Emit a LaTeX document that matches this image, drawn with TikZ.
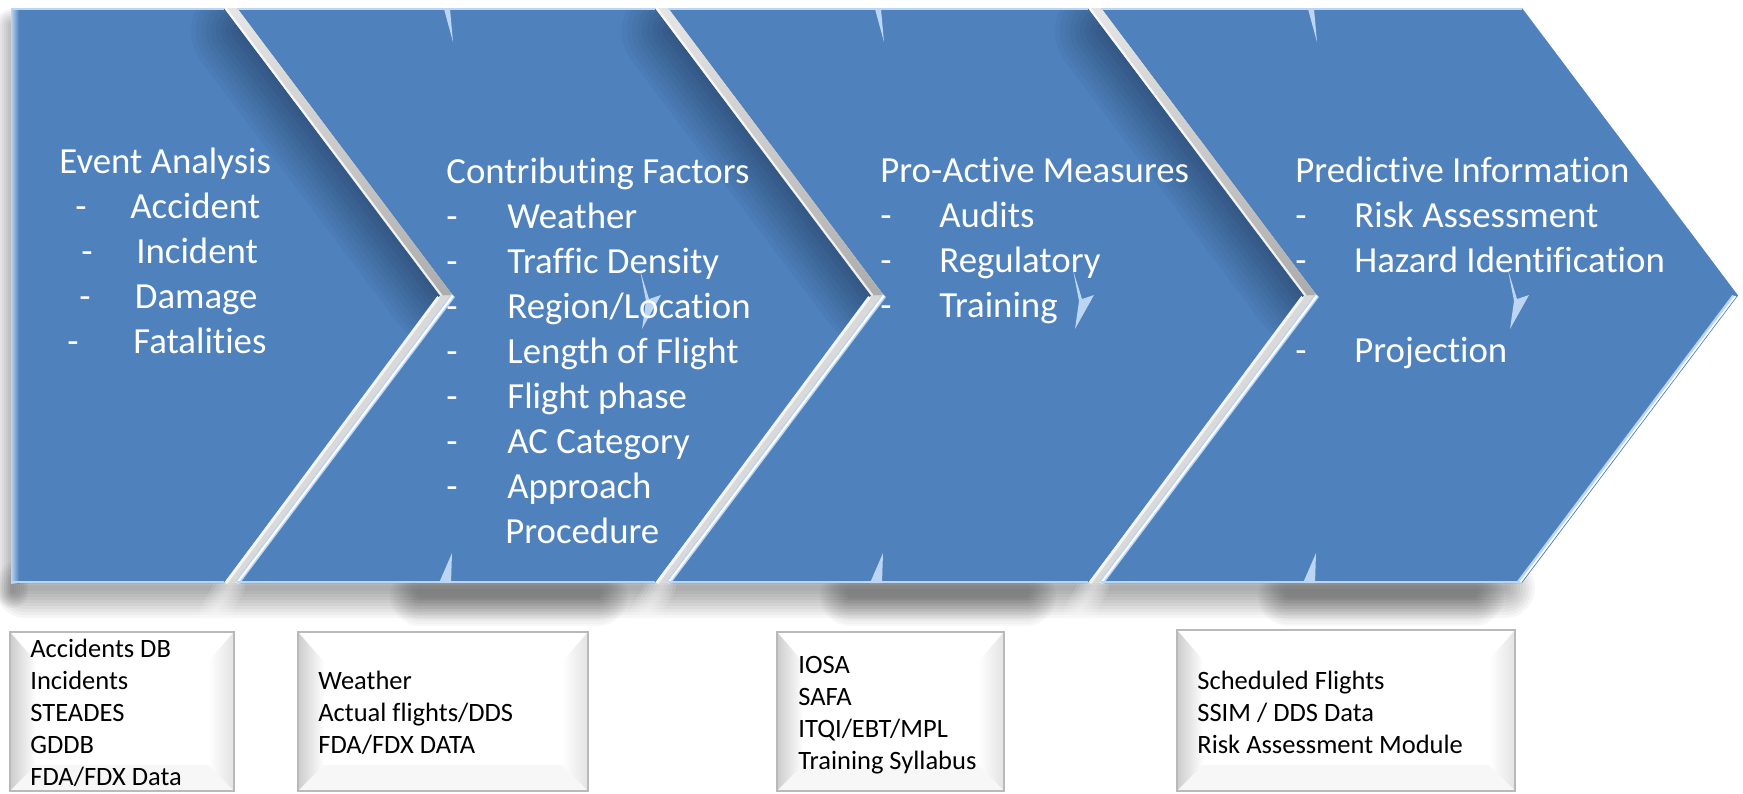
\documentclass[tikz,border=0pt]{standalone}
\usepackage{fontspec}
\setmainfont{Carlito}[Ligatures=NoCommon]
\definecolor{chev}{HTML}{4F81BD}
\definecolor{hilite}{HTML}{BCD5F2}
\newcommand{\mybevbox}[4]{%
  \fill[white] (#1,#2) rectangle (#3,#4);
  \shade[left color=gray!40, right color=white] (#1,#2) -- (#1+26,#2+30) -- (#1+26,#4-26) -- (#1,#4) -- cycle;
  \shade[left color=white, right color=gray!22] (#3,#2) -- (#3-26,#2+30) -- (#3-26,#4-26) -- (#3,#4) -- cycle;
  \fill[gray!6] (#1,#4) -- (#1+26,#4-26) -- (#3-26,#4-26) -- (#3,#4) -- cycle;
  \draw[gray!55, line width=0.7pt] (#1,#2) rectangle (#3,#4);
}
\begin{document}
\begin{tikzpicture}[x=0.5pt,y=-0.5pt,
  ctext/.style={text=white, font=\fontsize{18.4}{22.5}\selectfont, inner sep=0pt, anchor=base west},
  btext/.style={text=black, font=\fontsize{13.25}{16}\selectfont, inner sep=0pt, anchor=base west},
  spark/.style={fill=hilite},
  softline/.style={black, line cap=round}]
\useasboundingbox (0,0) rectangle (1743,793);
\fill[white] (0,0) rectangle (1743,793);

% ---------- soft shadows ----------
\foreach \w in {4,8,...,32} \draw[softline, opacity=0.035, line width=\w*0.5pt] (12,25) -- (12,592);
\foreach \w in {6,12,...,60} \draw[softline, opacity=0.034, line width=\w*0.5pt] (25,588) -- (1505,588);
\foreach \l/\r in {420/598, 850/1026, 1288/1474}
  \foreach \w in {5,10,...,60} \draw[softline, opacity=0.027, line width=\w*0.5pt] (\l,596) -- (\r,596);
\foreach \X in {224,655,1088}
  \foreach \w in {6,12,...,30} \draw[white, line cap=round, opacity=0.12, line width=\w*0.5pt] (\X+6,586) -- (\X-10,614);

% ---------- chevrons ----------
\fill[chev] (11,8) -- (224,8) -- (440,295.5) -- (224,583) -- (11,583) -- cycle;
\fill[chev] (237,8) -- (655,8) -- (871,295.5) -- (655,583) -- (237,583) -- (453,295.5) -- cycle;
\fill[chev] (668,8) -- (1088,8) -- (1304,295.5) -- (1088,583) -- (668,583) -- (884,295.5) -- cycle;
\fill[chev] (1101,8) -- (1522,8) -- (1738,295.5) -- (1522,583) -- (1101,583) -- (1317,295.5) -- cycle;

% inner shadows along the upper right edges
\begin{scope}
\clip (11,8) -- (224,8) -- (440,295.5) -- (224,583) -- (11,583) -- cycle;
\foreach \w in {10,20,...,100} \draw[softline, opacity=0.033, line width=\w*0.5pt] (241,31) -- (440,295.5);
\end{scope}
\begin{scope}
\clip (237,8) -- (655,8) -- (871,295.5) -- (655,583) -- (237,583) -- (453,295.5) -- cycle;
\foreach \w in {10,20,...,100} \draw[softline, opacity=0.033, line width=\w*0.5pt] (672,31) -- (871,295.5);
\end{scope}
\begin{scope}
\clip (668,8) -- (1088,8) -- (1304,295.5) -- (1088,583) -- (668,583) -- (884,295.5) -- cycle;
\foreach \w in {10,20,...,100} \draw[softline, opacity=0.033, line width=\w*0.5pt] (1105,31) -- (1304,295.5);
\end{scope}

% bevel gaps between chevrons
\foreach \X in {224,655,1088} {
  \shade[top color=gray!20, bottom color=gray!65] (\X,8) -- (\X+13,8) -- (\X+229,295.5) -- (\X+216,295.5) -- cycle;
  \draw[white, opacity=0.8, line width=1pt] (\X+1.5,8) -- (\X+217.5,295.5);
  \fill[gray!30] (\X+216,295.5) -- (\X+229,295.5) -- (\X+13,583) -- (\X,583) -- cycle;
  \draw[gray!8, line width=1.5pt] (\X+214.5,297) -- (\X+2,583);
  \draw[hilite, line width=2.5pt] (\X+229,295.5) -- (\X+13,583);
  \draw[white, line width=1pt] (\X+229,295.5) -- (\X+13,583);
}

% edge highlights
\shade[left color=hilite, right color=chev] (11,8) rectangle (19,583);
\foreach \a/\b in {11/224, 237/655, 668/1088, 1101/1522} {
  \draw[hilite, line width=0.6pt] (\a,9) -- (\b,9);
  \draw[hilite, line width=0.6pt] (\a,582) -- (\b,582);
}
\draw[hilite, line width=2pt] (1734,296) -- (1519,582);
\draw[white, line width=0.8pt] (1735.5,296) -- (1520.5,582);

% small light slivers
\foreach \N in {453,884,1317} {
  \fill[spark] (\N-9,9) -- (\N-3,9) -- (\N,42) -- cycle;
  \fill[spark] (\N-1,553) -- (\N-2,583) -- (\N-14,583) -- cycle;
}
\foreach \s in {640,1073,1508} {
  \fill[spark] (\s,270) -- (\s+9,299) -- (\s+21,295) -- (\s+2,329) -- (\s+6,301) -- cycle;
}

% ---------- chevron texts ----------
\node[ctext] (c1h) at (59,173) {Event Analysis};
\node[ctext] (c1d1) at (75,218) {-};   \node[ctext] (c1i1) at (130,218) {Accident};
\node[ctext] (c1d2) at (81,263) {-};   \node[ctext] (c1i2) at (136,263) {Incident};
\node[ctext] (c1d3) at (79,308) {-};   \node[ctext] (c1i3) at (134.5,308) {Damage};
\node[ctext] (c1d4) at (67,353) {-};   \node[ctext] (c1i4) at (133,353) {Fatalities};

\node[ctext] (c2h) at (446,183) {Contributing Factors};
\node[ctext] (c2d1) at (446,228) {-};  \node[ctext] (c2i1) at (507,228) {Weather};
\node[ctext] (c2d2) at (446,273) {-};  \node[ctext] (c2i2) at (507,273) {Traffic Density};
\node[ctext] (c2d3) at (446,318) {-};  \node[ctext] (c2i3) at (507,318) {Region/Location};
\node[ctext] (c2d4) at (446,363) {-};  \node[ctext] (c2i4) at (507,363) {Length of Flight};
\node[ctext] (c2d5) at (446,408) {-};  \node[ctext] (c2i5) at (507,408) {Flight phase};
\node[ctext] (c2d6) at (446,453) {-};  \node[ctext] (c2i6) at (507,453) {AC Category};
\node[ctext] (c2d7) at (446,498) {-};  \node[ctext] (c2i7) at (507,498) {Approach};
\node[ctext] (c2i8) at (505,543) {Procedure};

\node[ctext] (c3h) at (880,182) {Pro-Active Measures};
\node[ctext] (c3d1) at (880,227) {-};  \node[ctext] (c3i1) at (939,227) {Audits};
\node[ctext] (c3d2) at (880,272) {-};  \node[ctext] (c3i2) at (939,272) {Regulatory};
\node[ctext] (c3d3) at (880,317) {-};  \node[ctext] (c3i3) at (939,317) {Training};

\node[ctext] (c4h) at (1295,182) {Predictive Information};
\node[ctext] (c4d1) at (1295,227) {-}; \node[ctext] (c4i1) at (1354,227) {Risk Assessment};
\node[ctext] (c4d2) at (1295,272) {-}; \node[ctext] (c4i2) at (1354,272) {Hazard Identification};
\node[ctext] (c4d3) at (1295,362) {-}; \node[ctext] (c4i3) at (1354,362) {Projection};

% ---------- data boxes ----------
\mybevbox{10}{632}{234}{791}
\mybevbox{298}{632}{588}{791}
\mybevbox{777}{632}{1004}{791}
\mybevbox{1177}{630}{1515}{791}

\node[btext] (b1a) at (30,657) {Accidents DB};
\node[btext] (b1b) at (30,689) {Incidents};
\node[btext] (b1c) at (30,721) {STEADES};
\node[btext] (b1d) at (30,753) {GDDB};
\node[btext] (b1e) at (30,785) {FDA/FDX Data};

\node[btext] (b2a) at (318,689) {Weather};
\node[btext] (b2b) at (318,721) {Actual flights/DDS};
\node[btext] (b2c) at (318,753) {FDA/FDX DATA};

\node[btext] (b3a) at (798,673) {IOSA};
\node[btext] (b3b) at (798,705) {SAFA};
\node[btext] (b3c) at (798,737) {ITQI/EBT/MPL};
\node[btext] (b3d) at (798,769) {Training Syllabus};

\node[btext] (b4a) at (1197,689) {Scheduled Flights};
\node[btext] (b4b) at (1197,721) {SSIM / DDS Data};
\node[btext] (b4c) at (1197,753) {Risk Assessment Module};
\end{tikzpicture}
\end{document}
